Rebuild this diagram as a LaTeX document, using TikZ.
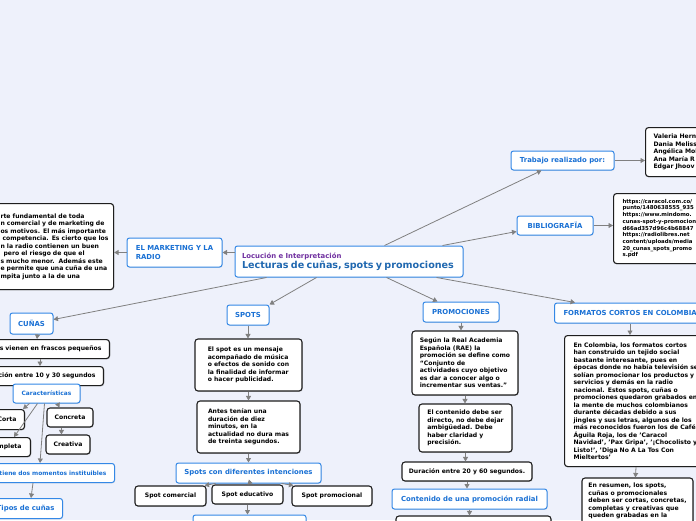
\documentclass[tikz,border=0pt]{standalone}
\usepackage{fontspec}
\setmainfont{DejaVu Sans}
\usepackage{xcolor}
\usepackage{tikz}
\usetikzlibrary{positioning, arrows.meta, shadows, calc}
\definecolor{PageBg}{RGB}{238,241,251}
\definecolor{TopicBlue}{RGB}{52,136,230}
\definecolor{LabelBlue}{RGB}{25,112,212}
\definecolor{TitleBlue}{RGB}{32,104,176}
\definecolor{TitlePurple}{RGB}{112,48,160}
\definecolor{BoxBorder}{RGB}{30,30,30}
\definecolor{LinkGray}{RGB}{128,128,128}
\newcommand{\mmtext}{\fontsize{6.1}{7.5}\selectfont\bfseries}
\newcommand{\mmlabel}{\fontsize{6.9}{8.4}\selectfont\bfseries}
\newcommand{\mmsmall}{\fontsize{5.9}{7.2}\selectfont\bfseries}
\newcommand{\mmurl}{\fontsize{5.4}{6.7}\selectfont\bfseries}
\tikzset{
  topicbox/.style={draw=TopicBlue, line width=1pt, fill=white, rounded corners=2.5pt, text=LabelBlue,
    font=\mmlabel, inner xsep=4pt, inner ysep=0pt,
    drop shadow={shadow xshift=0.6pt, shadow yshift=-0.8pt, opacity=0.2}},
  notebox/.style={draw=BoxBorder, line width=1.1pt, fill=white, rounded corners=3pt, font=\mmtext,
    align=left, inner xsep=4pt, inner ysep=0pt,
    drop shadow={shadow xshift=0.8pt, shadow yshift=-0.9pt, opacity=0.3}},
  cutleft/.style={anchor=north east, text width=150pt, align=right, inner xsep=8pt},
  cutright/.style={anchor=north west, align=left, inner xsep=8pt},
  link/.style={draw=LinkGray, line width=0.8pt, -{Triangle[length=4.5pt,width=5pt]}},
}

\begin{document}
\begin{tikzpicture}[x=1pt, y=-1pt]
  \useasboundingbox (0,0) rectangle (696,520);
  \clip (0,0) rectangle (696,520);
  \fill[PageBg] (0,0) rectangle (696,520);

  \node[topicbox, minimum width=228pt, minimum height=31pt, align=left, text width=214pt] (root) at (349,261.5)
    {{\color{TitlePurple}\fontsize{6.9}{8}\selectfont\bfseries Locución e Interpretación}\\
     {\color{TitleBlue}\fontsize{9.6}{11}\selectfont\bfseries Lecturas de cuñas, spots y promociones}};

  % marketing
  \node[topicbox, minimum width=95pt, minimum height=29pt, align=left] (mkt) at (174.5,252.5) {EL MARKETING Y LA\\RADIO};
  \node[notebox, anchor=north west, text width=109pt, minimum height=86pt] (mkttext) at (-4,203)
    {rte fundamental de toda\\n comercial y de marketing de\\os motivos. El más importante\\\hspace*{2pt}competencia. Es cierto que los\\n la radio contienen un buen\\\hspace*{3pt}pero el riesgo de que el\\s mucho menor.\ \ Además este\\e permite que una cuña de una\\mpita junto a la de una};

  % cunas
  \node[topicbox, minimum width=43pt, minimum height=21pt] (cunas) at (31.5,323.5) {CUÑAS};
  \node[notebox, cutleft, minimum height=19pt] (frascos) at (110,339) {as vienen en frascos pequeños};
  \node[notebox, cutleft, minimum height=19pt] (dur10) at (104,366) {ción entre 10 y 30 segundos};
  \node[topicbox, font=\mmsmall, minimum width=67pt, minimum height=19pt] (caract) at (46.5,393.5) {Características};
  \node[notebox, cutleft, minimum height=20pt] (corta) at (25,409) {Corta};
  \node[notebox, cutleft, minimum height=19pt, inner xsep=9pt] (completa) at (31,437) {mpleta};
  \node[notebox, minimum width=46pt, minimum height=19pt] (concreta) at (70,417.5) {Concreta};
  \node[notebox, minimum width=44pt, minimum height=19pt] (creativa) at (68,444.5) {Creativa};
  \node[topicbox, cutleft, font=\mmsmall, minimum height=19pt] (momentos) at (115,463) {tiene dos momentos instituibles};
  \node[topicbox, cutleft, minimum height=20pt] (tipos) at (63,498) {Tipos de cuñas};

  % spots
  \node[topicbox, minimum width=42pt, minimum height=20pt] (spots) at (248,315) {SPOTS};
  \node[notebox, minimum width=107pt, minimum height=52pt] (spotdef) at (248.5,365)
    {El spot es un mensaje\\acompañado de música\\o efectos de sonido con\\la finalidad de informar\\o hacer publicidad.};
  \node[notebox, minimum width=103pt, minimum height=52pt] (antes) at (248.5,427)
    {Antes tenían una\\duración de diez\\minutos, en la\\actualidad no dura mas\\de treinta segundos.};
  \node[topicbox, minimum width=145pt, minimum height=20pt] (intenc) at (248.5,473) {Spots con diferentes intenciones};
  \node[notebox, minimum width=71pt, minimum height=20pt] (comercial) at (170.5,496) {Spot comercial};
  \node[notebox, minimum width=71pt, minimum height=19pt] (educativo) at (247.5,494.5) {Spot educativo};
  \node[notebox, minimum width=80pt, minimum height=20pt] (promocional) at (332,496) {Spot promocional};
  \node[topicbox, minimum width=113pt, minimum height=20pt] (spotsub) at (249.5,525) {};

  % promociones
  \node[topicbox, minimum width=76pt, minimum height=20pt] (promo) at (461,312) {PROMOCIONES};
  \node[notebox, minimum width=106pt, minimum height=64pt] (rae) at (465,363)
    {Según la Real Academia\\Española (RAE) la\\promoción se define como\\“Conjunto de\\actividades cuyo objetivo\\es dar a conocer algo o\\incrementar sus ventas.”};
  \node[notebox, minimum width=93pt, minimum height=48pt] (directo) at (465.5,428)
    {El contenido debe ser\\directo, no debe dejar\\ambigüedad. Debe\\haber claridad y\\precisión.};
  \node[notebox, minimum width=130pt, minimum height=19pt] (dur20) at (467,471.5) {Duración entre 20 y 60 segundos.};
  \node[topicbox, minimum width=155pt, minimum height=20pt] (contenido) at (469.5,499) {Contenido de una promoción radial};
  \node[notebox, minimum width=155pt, minimum height=20pt] (promosub) at (473.5,526) {};

  % formatos cortos
  \node[topicbox, anchor=west, inner xsep=9pt, minimum height=20pt] (formatos) at (554,313) {FORMATOS CORTOS EN COLOMBIA};
  \node[notebox, cutright, text width=140pt, inner xsep=9pt, minimum height=131pt] (colombia) at (564,335)
    {En Colombia, los formatos cortos\\han construido un tejido social\\bastante interesante, pues en\\épocas donde no había televisión se\\solían promocionar los productos y\\servicios y demás en la radio\\nacional. Estos spots, cuñas o\\promociones quedaron grabados en\\la mente de muchos colombianos\\durante décadas debido a sus\\jingles y sus letras, algunos de los\\más reconocidos fueron los de Café\\Águila Roja, los de 'Caracol\\Navidad', 'Pax Gripa', '¡Chocolisto y\\Listo!', 'Diga No A La Tos Con\\Mieltertos'};
  \node[notebox, minimum width=111pt, minimum height=46pt] (resumen) at (637.5,501)
    {En resumen, los spots,\\cuñas o promocionales\\deben ser cortas, concretas,\\completas y creativas que\\queden grabadas en la};

  % trabajo y bibliografia
  \node[topicbox, minimum width=103pt, minimum height=19pt] (trabajo) at (562.5,160.5) {Trabajo realizado por:};
  \node[notebox, cutright, text width=60pt, minimum height=49pt] (names) at (645,127)
    {Valeria Hern\\Dania Meliss\\Angélica Mol\\Ana María R\\Edgar Jhoov};
  \node[topicbox, minimum width=76pt, minimum height=19pt] (biblio) at (555,225.5) {BIBLIOGRAFÏA};
  \node[notebox, cutright, font=\mmurl, text width=90pt, inner xsep=9pt, minimum height=70pt] (bibtext) at (613,193)
    {https://caracol.com.co/\\punto/1480638555\_935\\https://www.mindomo.\\cunas-spot-y-promocion\\d66ad357d96c4b68847\\https://radiolibres.net\\content/uploads/media\\20\_cunas\_spots\_promo\\s.pdf};

  % connectors
  \draw[link] (root.west |- mkt.east) -- (mkt.east);
  \draw[link] (mkt.west) -- (mkt.west -| mkttext.east);
  \draw[link] ([xshift=32pt]root.south west) -- ([yshift=4pt]cunas.east);
  \draw[link] ([xshift=82pt]root.south west) -- (spots.north east);
  \draw[link] ([xshift=152pt]root.south west) -- ([xshift=15pt]promo.north west);
  \draw[link] ([xshift=202pt]root.south west) -- ([xshift=21pt]formatos.north west);
  \draw[link] ([xshift=150pt]root.north west) -- ([xshift=31pt]trabajo.south west);
  \draw[link] ([xshift=208pt]root.north west) -- ([yshift=-6pt]biblio.west);
  \draw[link] (trabajo.east) -- (trabajo.east -| names.west);
  \draw[link] (biblio.east) -- (biblio.east -| bibtext.west);

  \draw[link] ([xshift=-16pt]cunas.south east) -- ([xshift=-73pt]frascos.north east);
  \draw[link] ([xshift=-70pt]frascos.south east) -- ([xshift=-64pt]dur10.north east);
  \draw[link] ([xshift=17pt]caract.south west) -- ([xshift=-2pt]corta.north east);
  \draw[link] ([xshift=25pt]caract.south west) -- ([xshift=-17pt]completa.north east);
  \draw[link] ([xshift=45pt]caract.south west) -- ([xshift=13pt]concreta.north west);
  \draw[link] ([xshift=32pt]caract.south west) -- ([xshift=-75pt]momentos.north east);
  \draw[link] ([xshift=15pt]concreta.south west) -- ([xshift=16pt]creativa.north west);
  \draw[link] ([xshift=-82pt]momentos.south east) -- ([xshift=-32pt]tipos.north east);

  \draw[link] (spots.south) -- (spots.south |- spotdef.north);
  \draw[link] (spotdef.south) -- (spotdef.south |- antes.north);
  \draw[link] (antes.south) -- (antes.south |- intenc.north);
  \draw[link] ([xshift=40pt]intenc.south west) -- ([xshift=-2pt]comercial.north east);
  \draw[link] (intenc.south) -- (educativo.north);
  \draw[link] ([xshift=-40pt]intenc.south east) -- ([xshift=2pt]promocional.north west);
  \draw[link] (educativo.south) -- (educativo.south |- spotsub.north);

  \draw[link] (promo.south) -- (promo.south |- rae.north);
  \draw[link] (rae.south) -- (rae.south |- directo.north);
  \draw[link] (directo.south) -- (directo.south |- dur20.north);
  \draw[link] (dur20.south) -- (dur20.south |- contenido.north);
  \draw[link] (contenido.south) -- (contenido.south |- promosub.north);

  \draw[link] ([xshift=76pt]formatos.south west) -- ([xshift=66pt]colombia.north west);
  \draw[link] ([xshift=72pt]colombia.south west) -- ([xshift=54pt]resumen.north west);
\end{tikzpicture}
\end{document}
